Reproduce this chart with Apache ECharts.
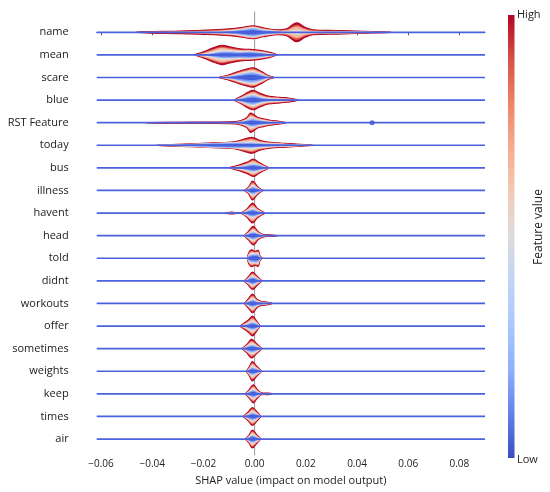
<!DOCTYPE html>
<html>
<head>
<meta charset="utf-8">
<script src="https://cdn.jsdelivr.net/npm/echarts@6/dist/echarts.min.js"></script>
<style>
html, body { margin: 0; padding: 0; background: #fff; }
#chart { width: 550px; height: 492px; }
</style>
</head>
<body>
<div id="chart"></div>
<script>
'use strict';
var features = ['name', 'mean', 'scare', 'blue', 'RST Feature', 'today', 'bus', 'illness', 'havent',
	'head', 'told', 'didnt', 'workouts', 'offer', 'sometimes', 'weights', 'keep', 'times', 'air'];
var xTicks = [-0.06, -0.04, -0.02, 0, 0.02, 0.04, 0.06, 0.08];

// violin profiles: [shap value, total density, density of low feature values]
var vName = [[-0.046, 0.2, 0], [-0.041, 0.8, 0], [-0.029, 1.3, 0], [-0.016, 2.5, 0.3], [-0.0097, 3.5, 1.2], [-0.0046, 5, 3],
	[-0.0007, 6.5, 4.5], [0.0033, 4.5, 2.5], [0.0086, 2.5, 1.2], [0.0125, 3.5, 0.4], [0.0164, 9.5, 0], [0.0197, 5, 0],
	[0.0228, 2.5, 0.3], [0.032, 1.8, 0.5], [0.0423, 1, 0.5], [0.053, 0.2, 0.1]];
var vMean = [[-0.0235, 0.2, 0], [-0.020, 3, 0.5], [-0.0162, 7, 2], [-0.0129, 9.7, 3.5], [-0.0097, 8, 3.5], [-0.0057, 6, 3],
	[-0.0018, 5.5, 3.5], [0.002, 4.5, 2.5], [0.006, 2.5, 1], [0.0088, 0.2, 0.1]];
var vScare = [[-0.0138, 0.2, 0], [-0.0097, 3, 1], [-0.0064, 6, 3], [-0.0031, 8.5, 5], [-0.0005, 9.7, 5.5], [0.0027, 6, 3],
	[0.0053, 2, 0.5], [0.0075, 0.2, 0.1]];
var vBlue = [[-0.0079, 0.2, 0], [-0.0051, 4, 2], [-0.0025, 8, 4], [-0.0005, 9.7, 5], [0.002, 7, 3], [0.0053, 4, 1.5],
	[0.0099, 2.8, 1], [0.0138, 1.8, 0.5], [0.0172, 0.2, 0.1]];
var vRst = [[-0.042, 0.2, 0], [-0.03, 0.5, 0], [-0.0097, 1, 0], [-0.0057, 2, 0.8], [-0.0031, 5, 2.5], [-0.0016, 9.7, 4],
	[-0.0003, 8, 4], [0.0014, 5, 3], [0.0034, 4, 2], [0.006, 2.5, 1], [0.0099, 1.2, 0.5], [0.012, 0.2, 0.1]];
var vToday = [[-0.038, 0.2, 0.2], [-0.025, 1.5, 1.3], [-0.016, 2.5, 2.2], [-0.008, 3.5, 2.8], [-0.003, 7, 2.8], [-0.001, 8, 2.8],
	[0.002, 5, 2], [0.006, 3, 1.5], [0.012, 2, 1], [0.018, 1, 0.5], [0.0225, 0.2, 0.1]];
var vBus = [[-0.0099, 0.2, 0], [-0.0064, 2.5, 1], [-0.0031, 5.5, 2.5], [-0.0005, 8.7, 4], [0.0014, 6, 3], [0.0034, 3, 1.5],
	[0.0055, 0.2, 0.1]];
var vIllness = [[-0.004, 0.2, 0], [-0.0025, 3, 1.5], [-0.0008, 9.5, 4], [0.0008, 5, 2.5], [0.002, 2, 1], [0.0032, 0.2, 0.1]];
var vHavent = [[-0.0115, 0.1, 0], [-0.009, 1, 0], [-0.0065, 0.2, 0], [-0.0051, 0.5, 0.2], [-0.0031, 4, 2], [-0.0008, 10, 4],
	[0.001, 5, 2.5], [0.0027, 2, 1], [0.0041, 0.2, 0.1]];
var vHead = [[-0.004, 0.2, 0], [-0.0025, 4, 2], [-0.0005, 9.3, 4], [0.0014, 4, 2], [0.0034, 1.2, 0.5], [0.006, 0.8, 0],
	[0.0088, 0.2, 0]];
var vTold = [[-0.0029, 0.2, 0], [-0.0022, 6, 3], [-0.0012, 8.5, 4], [0.0001, 7, 4.5], [0.0014, 8, 4], [0.002, 3, 1.5],
	[0.0028, 0.2, 0.1]];
var vDidnt = [[-0.004, 0.2, 0], [-0.0025, 4, 2], [-0.0008, 8.7, 4], [0.001, 4.5, 2], [0.0028, 0.2, 0.1]];
var vWorkouts = [[-0.004, 0.2, 0], [-0.0025, 4.5, 2], [-0.0008, 9.3, 4], [0.001, 4, 2], [0.0027, 2, 1], [0.0047, 1.5, 0.5],
	[0.0068, 0.2, 0.1]];
var vOffer = [[-0.0057, 0.2, 0], [-0.0038, 3.5, 1], [-0.0021, 7, 3], [-0.0008, 10, 4], [0.0008, 5, 2.5], [0.0021, 0.2, 0.1]];
var vSometimes = [[-0.0049, 0.2, 0], [-0.0031, 4, 2], [-0.0012, 9.3, 4], [0.0008, 5, 2.5], [0.0028, 0.2, 0.1]];
var vWeights = [[-0.0033, 0.2, 0], [-0.0022, 4, 2], [-0.0009, 9.7, 4], [0.0008, 5, 2.5], [0.0028, 0.2, 0.1]];
var vKeep = [[-0.0036, 0.2, 0], [-0.0022, 4, 2], [-0.0005, 9, 4], [0.001, 4.5, 2], [0.0027, 1, 0.5], [0.0053, 0.8, 0],
	[0.0068, 0.2, 0]];
var vTimes = [[-0.0044, 0.2, 0], [-0.0025, 4.5, 2], [-0.0009, 9, 4], [0.0008, 5, 2.5], [0.0024, 0.2, 0.1]];
var vAir = [[-0.0036, 0.2, 0], [-0.0022, 4, 2], [-0.0009, 9, 4], [0.0008, 4.5, 2], [0.0024, 0.2, 0.1]];

var profiles = [vName, vMean, vScare, vBlue, vRst, vToday, vBus, vIllness, vHavent, vHead, vTold, vDidnt,
	vWorkouts, vOffer, vSometimes, vWeights, vKeep, vTimes, vAir];
// single points drawn outside the violins: [shap value, feature row]
var outliers = [[0.0459, 4]];

var X_MIN = -0.0617, X_MAX = 0.09;
var DENSITY_PX = 22.6; // one row of the plot in density units

// nested bands, outer = high feature values, inner = low feature values
var layers = [
	{ f: 1, core: false, color: '#b40426' },
	{ f: 0.8, core: false, color: '#dc5a47' },
	{ f: 0.6, core: false, color: '#f3b49c' },
	{ f: 0.3, core: false, color: '#e6dbd8' },
	{ f: 1, core: true, color: '#b0c6f6' },
	{ f: 0.75, core: true, color: '#7897ef' },
	{ f: 0.45, core: true, color: '#3f5ddb' }
];

function fmtTick(v) {
	return (v < 0 ? '\u2212' : '') + Math.abs(v).toFixed(2);
}

function renderViolin(params, api) {
	var row = api.value(1);
	var prof = profiles[row];
	var k = api.size([0, 1])[1] / DENSITY_PX;
	var cy = api.coord([0, row])[1];
	var children = [];
	layers.forEach(function (L) {
		var top = [], bot = [];
		prof.forEach(function (p) {
			var x = api.coord([p[0], row])[0];
			var d = L.core ? p[2] * L.f : p[2] + (p[1] - p[2]) * L.f;
			top.push([x, cy - d * k]);
			bot.unshift([x, cy + d * k]);
		});
		children.push({
			type: 'polygon',
			shape: { points: top.concat(bot), smooth: 0.35 },
			style: L.f === 1 && !L.core ? { fill: L.color, stroke: L.color, lineWidth: 1.1 } : { fill: L.color }
		});
	});
	children.push({
		type: 'line',
		shape: { x1: api.coord([X_MIN, row])[0], y1: cy, x2: api.coord([X_MAX, row])[0], y2: cy },
		style: { stroke: '#4a60dc', lineWidth: 1.7 }
	});
	return { type: 'group', children: children };
}

function renderZero(params, api) {
	var x = api.coord([0, 0])[0];
	var cs = params.coordSys;
	return {
		type: 'line',
		shape: { x1: x, y1: cs.y, x2: x, y2: cs.y + cs.height },
		style: { stroke: '#999', lineWidth: 1 }
	};
}

var myChart = echarts.init(document.getElementById('chart'));
var option = {
	animation: false,
	textStyle: { fontFamily: 'Open Sans' },
	grid: { left: 96.7, right: 65, top: 11.5, bottom: 36.7 },
	xAxis: {
		type: 'value',
		min: X_MIN,
		max: X_MAX,
		name: 'SHAP value (impact on model output)',
		nameLocation: 'middle',
		nameGap: 20,
		nameTextStyle: { fontSize: 11, color: '#222' },
		axisLine: { lineStyle: { color: '#555', width: 1 } },
		axisTick: { customValues: xTicks, length: 3, lineStyle: { color: '#555' } },
		axisLabel: { customValues: xTicks, formatter: fmtTick, fontSize: 10, color: '#222', margin: 4 },
		splitLine: { show: false }
	},
	yAxis: {
		type: 'value',
		inverse: true,
		min: -0.92,
		max: 18.72,
		axisLine: { show: false },
		axisTick: { show: false },
		splitLine: { show: false },
		axisLabel: {
			customValues: features.map(function (f, i) { return i; }),
			formatter: function (v) { return features[v]; },
			fontSize: 11,
			color: '#1a1a1a',
			margin: 28
		}
	},
	series: [{
		type: 'custom',
		z: 1,
		renderItem: renderZero,
		data: [[0, 0]],
		silent: true
	}, {
		type: 'custom',
		z: 2,
		renderItem: renderViolin,
		encode: { x: 0, y: 1 },
		data: features.map(function (f, i) { return [0, i]; }),
		silent: true
	}, {
		type: 'scatter',
		z: 3,
		data: outliers,
		symbolSize: 5,
		itemStyle: { color: '#3b55d8' },
		silent: true
	}],
	graphic: [{
		type: 'rect',
		shape: { x: 508, y: 15, width: 6.5, height: 443 },
		style: {
			fill: new echarts.graphic.LinearGradient(0, 0, 0, 1, [
				{ offset: 0, color: '#b40426' }, { offset: 0.1, color: '#d65244' },
				{ offset: 0.2, color: '#ee8468' }, { offset: 0.3, color: '#f7ac8e' },
				{ offset: 0.4, color: '#f2cbb7' }, { offset: 0.5, color: '#dddcdc' },
				{ offset: 0.6, color: '#c0d4f5' }, { offset: 0.7, color: '#aac7fd' },
				{ offset: 0.8, color: '#8db0fe' }, { offset: 0.9, color: '#6282ea' },
				{ offset: 1, color: '#3b4cc0' }
			])
		}
	}, {
		type: 'text', x: 517, y: 15,
		style: { text: 'High', fontSize: 11, fontFamily: 'Open Sans', fill: '#222', verticalAlign: 'middle' }
	}, {
		type: 'text', x: 517, y: 460,
		style: { text: 'Low', fontSize: 11, fontFamily: 'Open Sans', fill: '#222', verticalAlign: 'middle' }
	}, {
		type: 'text', x: 539, y: 227, rotation: Math.PI / 2,
		style: { text: 'Feature value', fontSize: 12, fontFamily: 'Open Sans', fill: '#222', align: 'center', verticalAlign: 'middle' }
	}]
};
myChart.setOption(option);
</script>
</body>
</html>
